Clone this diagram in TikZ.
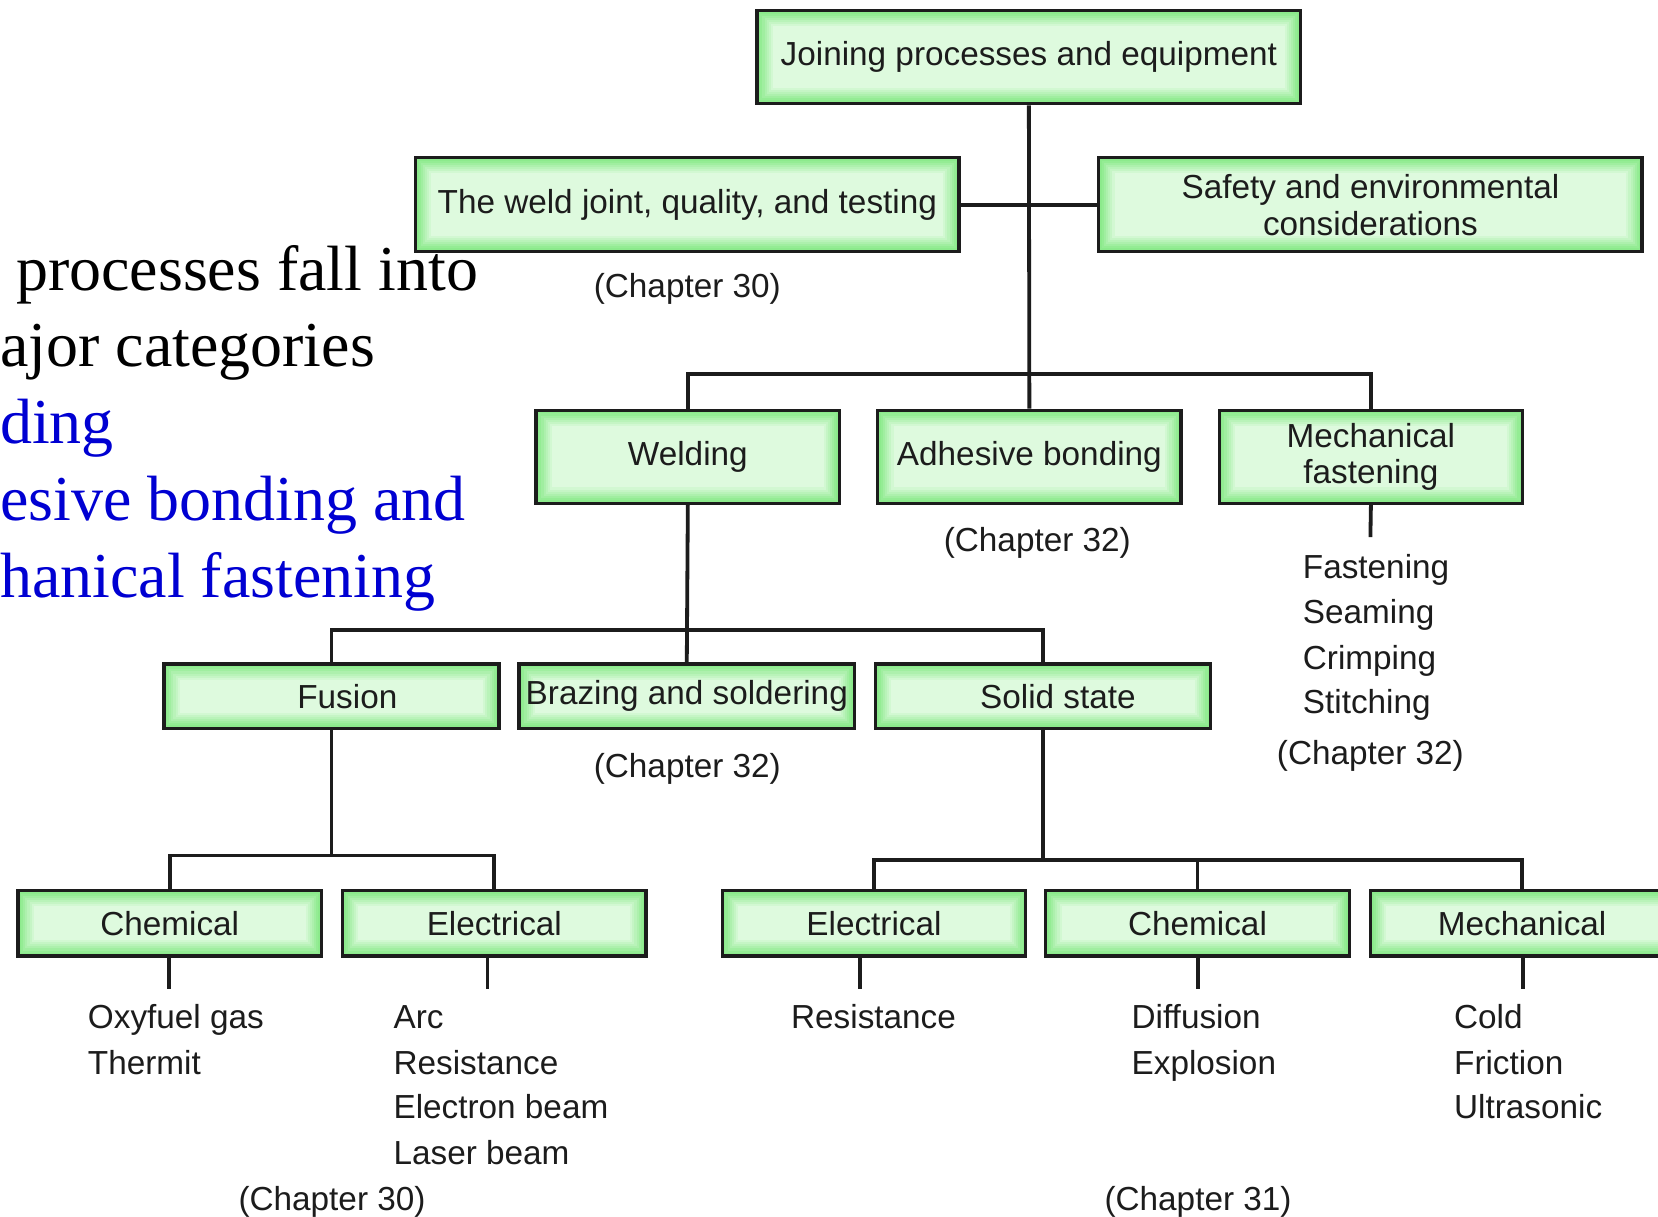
\documentclass[tikz,border=0pt]{standalone}
\usepackage{fontspec}
\setmainfont{Liberation Sans}
\newfontfamily\tnr{Liberation Serif}
\usetikzlibrary{calc}
\definecolor{gedge}{RGB}{140,234,140}
\definecolor{gcenter}{RGB}{222,250,222}
\definecolor{ink}{RGB}{28,28,28}
\definecolor{slideblue}{RGB}{0,0,210}
\tikzset{
  gbox/.style={rectangle, draw=ink, line width=3.2pt, fill=gedge, inner sep=0pt,
    align=center, text=ink, font=\fontsize{31.5}{35}\selectfont,
    path picture={\foreach \d/\p in {3/10,5/25,7/40,9/55,11/70,13/85,15/100}{
      \fill[gcenter!\p!gedge] ($(path picture bounding box.south west)+(\d pt,\d pt)$)
        rectangle ($(path picture bounding box.north east)-(\d pt,\d pt)$);}}},
  boxA/.style={gbox, minimum width=514pt, minimum height=89pt},
  boxB/.style={gbox, minimum width=287pt, minimum height=88pt},
  boxC/.style={gbox, minimum width=317pt, minimum height=61pt},
  boxD/.style={gbox, minimum width=287pt, minimum height=62pt},
  conn/.style={draw=ink, line width=3.6pt},
  lst/.style={anchor=base west, inner sep=0pt, text=ink, font=\fontsize{31.5}{36}\selectfont},
  chap/.style={anchor=base, inner sep=0pt, text=ink, font=\fontsize{31.5}{36}\selectfont},
  slide/.style={anchor=base west, inner sep=0pt, font=\tnr\fontsize{60.5}{72}\selectfont},
}
\begin{document}
\begin{tikzpicture}[x=1pt,y=-1pt]
\useasboundingbox (0,0) rectangle (1568,1150);
\clip (0,0) rectangle (1568,1150);
\fill[white] (0,0) rectangle (1568,1150);

% slide text (clipped at the left edge as in the reference)
\node[slide, text=black] (t1) at (15,275) {processes fall into};
\node[slide, text=black] (t2) at (0,347) {ajor categories};
\node[slide, text=slideblue] (t3) at (0,419) {ding};
\node[slide, text=slideblue] (t4) at (0,492) {esive bonding and};
\node[slide, text=slideblue] (t5) at (0,565) {hanical fastening};

% boxes
\node[boxA, minimum height=88pt] (join) at (973,54) {Joining processes and equipment};
\node[boxA] (wj) at (650,193.5) {The weld joint, quality, and testing};
\node[boxA] (safe) at (1296,193.5) {Safety and environmental\\considerations};

\node[boxB] (weld) at (650.5,432) {Welding};
\node[boxB] (adh) at (973.5,432) {Adhesive bonding};
\node[boxB, font=\fontsize{31.5}{34}\selectfont] (mf) at (1296.5,432) {Mechanical\\fastening};

\node[boxC] (fusion) at (313.5,658.5) {\hspace*{30pt}Fusion};
\node[boxC] (braz) at (649.5,658.5) {Brazing and soldering};
\node[boxC] (solid) at (986.5,658.5) {\hspace*{28pt}Solid state};

\node[boxD] (chemF) at (160.5,873) {Chemical};
\node[boxD] (elecF) at (467.5,873) {Electrical};
\node[boxD] (elecS) at (826.5,873) {Electrical};
\node[boxD] (chemS) at (1132.5,873) {Chemical};
\node[boxD] (mechS) at (1439.5,873) {Mechanical};

% bus and stub coordinates
\coordinate (bus1) at (973,354);
\coordinate (bus2) at (650,596);
\coordinate (bus3) at (314,809);
\coordinate (bus4) at (987,813);
\coordinate (s0) at (1296,508);
\coordinate (s1) at (160,935);
\coordinate (s2) at (461,935);
\coordinate (s3) at (813,935);
\coordinate (s4) at (1133,935);
\coordinate (s5) at (1440,935);

% connectors
\draw[conn] (join.south) -- (adh.north);
\draw[conn] (wj.east) -- (safe.west);
\draw[conn] (weld.north) -- (weld.north |- bus1) -- (mf.north |- bus1) -- (mf.north);
\draw[conn] (weld.south) -- (braz.north);
\draw[conn] (fusion.north) -- (fusion.north |- bus2) -- (solid.north |- bus2) -- (solid.north);
\draw[conn] (fusion.south) -- (fusion.south |- bus3);
\draw[conn] (chemF.north) -- (chemF.north |- bus3) -- (elecF.north |- bus3) -- (elecF.north);
\draw[conn] (solid.south) -- (solid.south |- bus4);
\draw[conn] (elecS.north) -- (elecS.north |- bus4) -- (mechS.north |- bus4) -- (mechS.north);
\draw[conn] (chemS.north) -- (chemS.north |- bus4);
\draw[conn] (mf.south) -- (s0);
\draw[conn] (s1 |- chemF.south) -- (s1);
\draw[conn] (s2 |- elecF.south) -- (s2);
\draw[conn] (s3 |- elecS.south) -- (s3);
\draw[conn] (s4 |- chemS.south) -- (s4);
\draw[conn] (s5 |- mechS.south) -- (s5);

% chapter labels
\node[chap] (c1) at (650,281) {(Chapter 30)};
\node[chap] (c2) at (981,522) {(Chapter 32)};
\node[chap] (c3) at (650,735) {(Chapter 32)};
\node[chap] (c4) at (1296,723) {(Chapter 32)};
\node[chap] (c5) at (314,1145) {(Chapter 30)};
\node[chap] (c6) at (1133,1145) {(Chapter 31)};

% lists
\node[lst] (m1) at (1232,547) {Fastening};
\node[lst] (m2) at (1232,590) {Seaming};
\node[lst] (m3) at (1232,633) {Crimping};
\node[lst] (m4) at (1232,675) {Stitching};

\node[lst] (f1) at (83,973) {Oxyfuel gas};
\node[lst] (f2) at (83,1016) {Thermit};

\node[lst] (e1) at (372,973) {Arc};
\node[lst] (e2) at (372,1016) {Resistance};
\node[lst] (e3) at (372,1058) {Electron beam};
\node[lst] (e4) at (372,1101) {Laser beam};

\node[lst] (r1) at (748,973) {Resistance};

\node[lst] (d1) at (1070,973) {Diffusion};
\node[lst] (d2) at (1070,1016) {Explosion};

\node[lst] (k1) at (1375,973) {Cold};
\node[lst] (k2) at (1375,1016) {Friction};
\node[lst] (k3) at (1375,1058) {Ultrasonic};
\end{tikzpicture}
\end{document}
